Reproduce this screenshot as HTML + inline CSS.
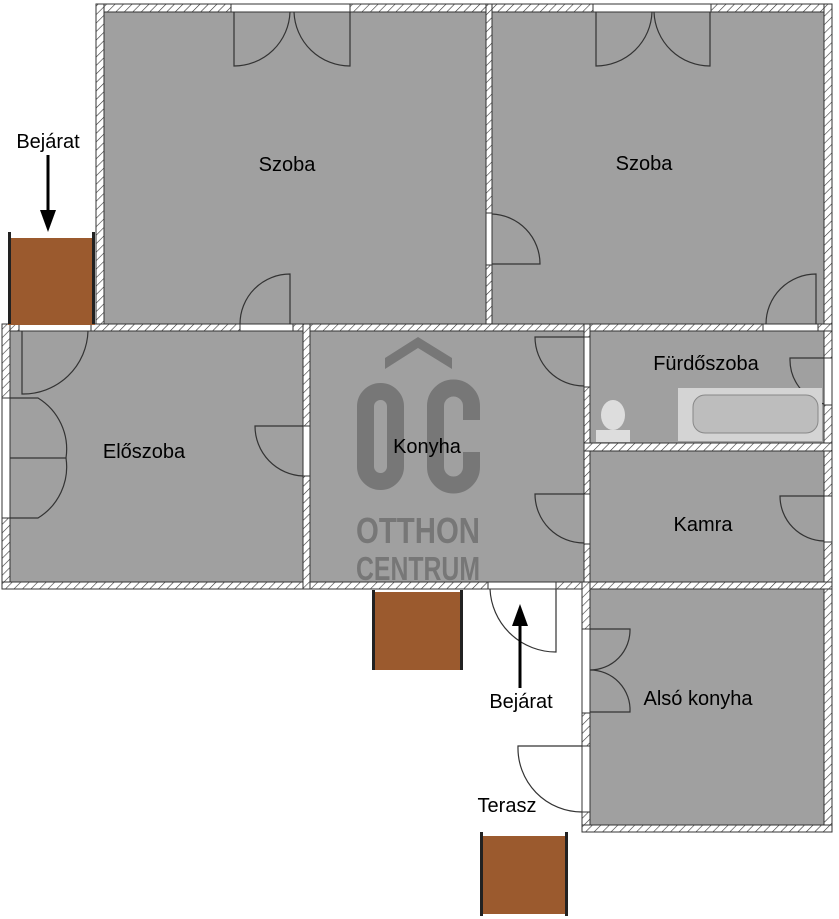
<!DOCTYPE html>
<html><head><meta charset="utf-8"><style>
html,body{margin:0;padding:0;background:#fff}
svg{display:block}
text{font-family:"Liberation Sans","DejaVu Sans",sans-serif}
</style></head><body>
<svg width="839" height="919" viewBox="0 0 839 919" xmlns="http://www.w3.org/2000/svg">
<defs>
<pattern id="h" width="6" height="6" patternUnits="userSpaceOnUse" patternTransform="rotate(45)">
<rect width="6" height="6" fill="#fff"/><line x1="0" y1="0" x2="0" y2="6" stroke="#333" stroke-width="1.2"/>
</pattern>
</defs>
<g fill="url(#h)" stroke="#333" stroke-width="1">
<rect x="96" y="4" width="736" height="8"/>
<rect x="96" y="4" width="8" height="327"/>
<rect x="486" y="4" width="6" height="327"/>
<rect x="824" y="4" width="8" height="828"/>
<rect x="2" y="324" width="830" height="7"/>
<rect x="2" y="324" width="8" height="265"/>
<rect x="2" y="582" width="588" height="7"/>
<rect x="303" y="324" width="7" height="265"/>
<rect x="584" y="324" width="6" height="265"/>
<rect x="582" y="582" width="250" height="7"/>
<rect x="584" y="443" width="248" height="8"/>
<rect x="582" y="582" width="8" height="250"/>
<rect x="582" y="825" width="250" height="7"/>
</g>
<g fill="#a0a0a0" stroke="#333" stroke-width="1">
<rect x="104" y="12" width="382" height="312"/>
<rect x="492" y="12" width="332" height="312"/>
<rect x="10" y="331" width="293" height="251"/>
<rect x="310" y="331" width="274" height="251"/>
<rect x="590" y="331" width="234" height="112"/>
<rect x="590" y="451" width="234" height="131"/>
<rect x="590" y="589" width="234" height="236"/>
</g>
<g fill="#fff" stroke="#333" stroke-width="1">
<rect x="231" y="4" width="119" height="8"/>
<rect x="593" y="4" width="118" height="8"/>
<rect x="240" y="324" width="53" height="7"/>
<rect x="763" y="324" width="55" height="7"/>
<rect x="19" y="323" width="72" height="8"/>
<rect x="486" y="213" width="6" height="52"/>
<rect x="2" y="398" width="8" height="120"/>
<rect x="303" y="426" width="7" height="50"/>
<rect x="584" y="337" width="6" height="50"/>
<rect x="584" y="494" width="6" height="50"/>
<rect x="824" y="358" width="8" height="47"/>
<rect x="824" y="496" width="8" height="46"/>
<rect x="582" y="629" width="8" height="84"/>
<rect x="488" y="582" width="68" height="7"/>
<rect x="582" y="746" width="8" height="66"/>
</g>
<g>
<rect x="8" y="238" width="87" height="87" fill="#9b5a2e"/>
<rect x="8" y="232" width="3" height="92" fill="#222"/><rect x="92" y="232" width="3" height="92" fill="#222"/>
<rect x="372" y="592" width="91" height="78" fill="#9b5a2e"/>
<rect x="372" y="590" width="3" height="80" fill="#222"/><rect x="460" y="590" width="3" height="80" fill="#222"/>
<rect x="480" y="836" width="88" height="78" fill="#9b5a2e"/>
<rect x="480" y="832" width="3" height="84" fill="#222"/><rect x="565" y="832" width="3" height="84" fill="#222"/>
</g>
<g fill="none" stroke="#777" stroke-width="17">
<rect x="365.5" y="391.5" width="30" height="90" rx="15"/>
<path d="M471.5,420 V406 A18,18 0 0 0 435.5,406 V467 A18,18 0 0 0 471.5,467 V452"/>
</g>
<path d="M385,358 L418,337 L452,358 L452,369 L418,348 L385,369 Z" fill="#777"/>
<text x="418" y="543" font-size="36" font-weight="bold" fill="#777" text-anchor="middle" textLength="124" lengthAdjust="spacingAndGlyphs">OTTHON</text>
<text x="418" y="580" font-size="33" font-weight="bold" fill="#777" text-anchor="middle" textLength="124" lengthAdjust="spacingAndGlyphs">CENTRUM</text>
<g fill="none" stroke="#333" stroke-width="1.2">
<path d="M234,12 V66 A56,56 0 0 0 290,12"/>
<path d="M350,12 V66 A56,56 0 0 1 294,12"/>
<path d="M596,12 V66 A56,56 0 0 0 652,12"/>
<path d="M710,12 V66 A56,56 0 0 1 654,12"/>
<path d="M290,324 V274 A50,50 0 0 0 240,324"/>
<path d="M816,324 V274 A50,50 0 0 0 766,324"/>
<path d="M492,214 A50,50 0 0 1 540,264 H492"/>
<path d="M22,331 V394 A65,65 0 0 0 88,331"/>
<path d="M10,398 H38 A60,60 0 0 1 66,458 H10"/>
<path d="M10,518 H38 A60,60 0 0 0 66,458"/>
<path d="M303,426 H255 A50,50 0 0 0 303,476"/>
<path d="M584,337 H535 A49,49 0 0 0 584,386"/>
<path d="M584,494 H535 A49,49 0 0 0 584,543"/>
<path d="M824,358 H790 A46,46 0 0 0 824,404"/>
<path d="M824,496 H780 A45,45 0 0 0 824,541"/>
<path d="M590,629 H630 A40,40 0 0 1 590,670"/>
<path d="M590,712 H630 A40,40 0 0 0 590,670"/>
<path d="M556,589 V652 A66,66 0 0 1 490,589"/>
<path d="M582,746 H518 A64,64 0 0 0 582,812"/>
</g>
<rect x="678" y="388" width="144" height="53" fill="#d4d4d4"/>
<rect x="693" y="395" width="125" height="38" rx="12" fill="#bdbdbd" stroke="#888"/>
<rect x="596" y="430" width="34" height="12" fill="#ddd"/>
<ellipse cx="613" cy="415" rx="12" ry="15" fill="#ddd"/>
<line x1="48" y1="155" x2="48" y2="212" stroke="#000" stroke-width="3"/>
<path d="M40,210 L56,210 L48,232 Z" fill="#000"/>
<line x1="520" y1="688" x2="520" y2="625" stroke="#000" stroke-width="3"/>
<path d="M512,626 L528,626 L520,604 Z" fill="#000"/>
<g font-size="20" fill="#000" text-anchor="middle">
<text x="287" y="171">Szoba</text>
<text x="644" y="170">Szoba</text>
<text x="144" y="458">Előszoba</text>
<text x="427" y="453">Konyha</text>
<text x="706" y="370">Fürdőszoba</text>
<text x="703" y="531">Kamra</text>
<text x="698" y="705">Alsó konyha</text>
<text x="48" y="148">Bejárat</text>
<text x="521" y="708">Bejárat</text>
<text x="507" y="812">Terasz</text>
</g>
</svg>
</body></html>
